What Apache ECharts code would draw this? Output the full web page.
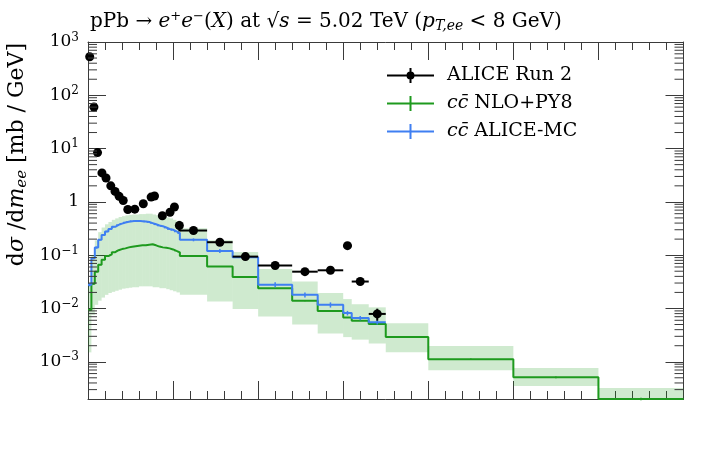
<!DOCTYPE html>
<html><head><meta charset="utf-8">
<script src="https://cdn.jsdelivr.net/npm/echarts@6/dist/echarts.min.js"></script>
<style>html,body{margin:0;padding:0;background:#fff}#c{width:706px;height:459px}</style>
</head><body><div id="c"></div>
<script>
// ---- data ----
const binEdges = [0,0.02,0.04,0.06,0.08,0.10,0.12,0.14,0.16,0.18,0.20,0.22,0.24,0.26,0.28,0.30,0.32,0.34,0.36,0.38,0.40,0.42,0.44,0.46,0.48,0.50,0.52,0.54,0.70,0.85,1.00,1.20,1.35,1.50,1.55,1.65,1.75,2.00,2.50,3.00,3.50];
const nloValues = [0.0094,0.029,0.049,0.066,0.082,0.096,0.104,0.114,0.124,0.130,0.134,0.140,0.144,0.147,0.150,0.153,0.153,0.157,0.160,0.153,0.145,0.140,0.138,0.134,0.128,0.120,0.113,0.096,0.061,0.039,0.024,0.0139,0.0090,0.0068,0.0059,0.0051,0.0029,0.00112,0.00051,0.0002];
const nloBandLow = [0.0015,0.0076,0.0117,0.0140,0.0160,0.0180,0.0195,0.0205,0.0215,0.0225,0.0235,0.0240,0.0245,0.025,0.025,0.026,0.026,0.026,0.026,0.025,0.025,0.024,0.024,0.023,0.022,0.021,0.020,0.018,0.0135,0.0098,0.0071,0.0050,0.0034,0.0029,0.0026,0.0022,0.0015,0.00069,0.00035,0.0001];
const nloBandHigh = [0.030,0.10,0.19,0.27,0.33,0.38,0.42,0.46,0.49,0.52,0.54,0.56,0.57,0.58,0.58,0.59,0.59,0.60,0.60,0.58,0.56,0.54,0.53,0.51,0.49,0.46,0.43,0.32,0.19,0.115,0.055,0.032,0.0195,0.0150,0.0120,0.0105,0.0053,0.00197,0.00076,0.00032];
const nloErr = [0.0004,0.001,0.001,0.001,0.001,0.001,0.001,0.001,0.001,0.001,0.001,0.001,0.001,0.001,0.001,0.001,0.001,0.001,0.001,0.001,0.001,0.001,0.001,0.001,0.001,0.001,0.001,0.001,0.0008,0.0006,0.0003,0.0002,0.00015,0.00012,0.0001,0.0001,0.00006,0.00003,0.00002,0.00001];
const mcValues = [0.028,0.088,0.139,0.194,0.24,0.278,0.31,0.34,0.37,0.39,0.41,0.425,0.435,0.44,0.44,0.435,0.43,0.42,0.40,0.38,0.36,0.35,0.33,0.31,0.30,0.28,0.26,0.194,0.12,0.091,0.028,0.018,0.0117,0.0082,0.0066,0.0055];
const mcErr = [0.002,0.004,0.006,0.007,0.008,0.009,0.01,0.01,0.012,0.012,0.013,0.013,0.014,0.014,0.014,0.014,0.014,0.014,0.013,0.013,0.013,0.012,0.012,0.012,0.012,0.011,0.011,0.012,0.01,0.012,0.003,0.002,0.0013,0.0008,0.0006,0.0005];
const dataX = [0.01,0.035,0.056,0.082,0.106,0.134,0.159,0.183,0.207,0.234,0.275,0.325,0.371,0.391,0.437,0.482,0.508,0.537,0.62,0.775,0.925,1.10,1.275,1.425,1.525,1.60,1.70];
const dataY = [530,60,8.4,3.5,2.8,2.0,1.57,1.27,1.06,0.72,0.73,0.92,1.23,1.29,0.55,0.64,0.80,0.36,0.29,0.175,0.094,0.064,0.049,0.052,0.151,0.032,0.0079];
const dataXErr = [0.01,0.01,0.01,0.01,0.01,0.01,0.01,0.01,0.01,0.01,0.015,0.015,0.01,0.01,0.015,0.015,0.01,0.01,0.08,0.075,0.075,0.10,0.075,0.075,0.025,0.05,0.05];
const dataYErr = [20,3,0.4,0.15,0.12,0.08,0.06,0.05,0.05,0.04,0.04,0.05,0.06,0.06,0.04,0.05,0.06,0.08,0.02,0.012,0.012,0.004,0.004,0.004,0.008,0.003,0.002];
const yTickValues = [0.001,0.01,0.1,1,10,100,1000];
const yTickLabels = ['10{sup|−3}','10{sup|−2}','10{sup|−1}','1','10{sup|1}','10{sup|2}','10{sup|3}'];
const seriesNames = ['ALICE Run 2','cc̄ NLO+PY8','cc̄ ALICE-MC'];

// ---- axis ranges / styles ----
const X_MIN = 0, X_MAX = 3.5, Y_MIN = 2e-4, Y_MAX = 1000;
const FONT = 'DejaVu Serif';
const GREEN = '#1e9a1e', BLUE = '#3f7ff2', BAND = 'rgba(30,154,30,0.21)', AXIS = '#3a3a3a';

function stepPoints(vals) {
  const pts = [];
  vals.forEach((v, i) => { pts.push([binEdges[i], v]); pts.push([binEdges[i + 1], v]); });
  return pts;
}
const bandData = nloValues.map((v, i) => [binEdges[i], binEdges[i + 1], nloBandLow[i], nloBandHigh[i]]);
const nloErrData = nloValues.map((v, i) => [(binEdges[i] + binEdges[i + 1]) / 2, v, nloErr[i]]);
const mcErrData = mcValues.map((v, i) => [(binEdges[i] + binEdges[i + 1]) / 2, v, mcErr[i]]);
const pointData = dataX.map((x, i) => [x, dataY[i]]);
const pointErrData = dataX.map((x, i) => [x, dataY[i], dataXErr[i], dataYErr[i]]);
const minorTickData = [];
for (let e = -4; e <= 2; e++) for (let m = 2; m <= 9; m++) {
  const v = m * Math.pow(10, e);
  if (v > Y_MIN && v < Y_MAX) minorTickData.push([X_MIN, v]);
}

function clipRect(shape, cs) {
  return echarts.graphic.clipRectByRect(shape, { x: cs.x, y: cs.y, width: cs.width, height: cs.height });
}

const chart = echarts.init(document.getElementById('c'), null, { renderer: 'canvas' });
const axisX = (pos) => ({
  type: 'value', min: X_MIN, max: X_MAX, interval: 0.5, position: pos,
  axisLine: { show: true, onZero: false, lineStyle: { color: AXIS, width: 1 } },
  axisTick: { show: true, inside: true, length: 18, lineStyle: { color: AXIS, width: 1 } },
  minorTick: { show: true, splitNumber: 5, length: 8, lineStyle: { color: AXIS, width: 1 } },
  axisLabel: { show: false }, splitLine: { show: false }, minorSplitLine: { show: false }
});
const axisY = (pos, labels) => ({
  type: 'log', logBase: 10, min: Y_MIN, max: Y_MAX, position: pos,
  axisLine: { show: true, onZero: false, lineStyle: { color: AXIS, width: 1 } },
  axisTick: { show: true, inside: true, length: 18, lineStyle: { color: AXIS, width: 1 } },
  minorTick: { show: false }, splitLine: { show: false },
  axisLabel: labels ? {
    show: true, margin: 9, color: '#000', fontFamily: FONT, fontSize: 17,
    formatter: (v) => {
      const i = yTickValues.findIndex(t => Math.abs(Math.log10(t) - Math.log10(v)) < 1e-6);
      return i < 0 ? '' : yTickLabels[i];
    },
    rich: { sup: { fontSize: 12, fontFamily: FONT, color: '#000', padding: [0, 0, 9, 0] } }
  } : { show: false }
});

const richBase = {
  i: { fontStyle: 'italic', fontFamily: FONT, fontSize: 20, color: '#000' },
  sup: { fontSize: 13, fontFamily: FONT, color: '#000', padding: [0, 0, 10, 0] },
  sub: { fontSize: 14, fontStyle: 'italic', fontFamily: FONT, color: '#000', padding: [9, 0, 0, 0] }
};

const option = {
  animation: false,
  backgroundColor: '#fff',
  title: {
    text: 'pPb → {i|e}{sup|+}{i|e}{sup|−}({i|X}) at √{i|s} = 5.02 TeV ({i|p}{sub|T,ee} < 8 GeV)',
    left: 85, top: 5,
    textStyle: { fontFamily: FONT, fontSize: 20, fontWeight: 'normal', color: '#000', rich: richBase }
  },
  graphic: [{
    type: 'text', x: 17, y: 43, rotation: Math.PI / 2,
    style: {
      text: 'd{i|σ} /d{i|m}{sub|ee} [mb / GeV]',
      font: '22px "DejaVu Serif"', fill: '#000', align: 'right', verticalAlign: 'middle',
      rich: {
        i: { fontStyle: 'italic', fontFamily: FONT, fontSize: 22, fill: '#000' },
        sub: { fontSize: 15, fontStyle: 'italic', fontFamily: FONT, fill: '#000', padding: [11, 0, 0, 0] }
      }
    }
  }],
  legend: {
    orient: 'vertical', left: 382, top: 61, itemWidth: 47, itemHeight: 15, itemGap: 9,
    selectedMode: false,
    data: [
      { name: seriesNames[0], icon: 'path://M0,6.5H47V8.5H0Z M22.5,0H24.5V15H22.5Z M23.5,3.5A4,4,0,1,1,23.5,11.5A4,4,0,1,1,23.5,3.5Z' },
      { name: seriesNames[1], icon: 'path://M0,6.5H47V8.5H0Z M22.5,0H24.5V15H22.5Z' },
      { name: seriesNames[2], icon: 'path://M0,6.5H47V8.5H0Z M22.5,0H24.5V15H22.5Z' }
    ],
    formatter: (name) => name.replace('cc̄', '{i|cc̄}'),
    textStyle: {
      fontFamily: FONT, fontSize: 19, color: '#000', padding: [0, 0, 0, 8],
      rich: { i: { fontStyle: 'italic', fontFamily: FONT, fontSize: 19, color: '#000' } }
    }
  },
  grid: { left: 88, right: 22.5, top: 42, bottom: 60, containLabel: false },
  xAxis: [axisX('bottom'), axisX('top')],
  yAxis: [axisY('left', true), axisY('right', false)],
  series: [
    {
      name: 'nlo band', type: 'custom', xAxisIndex: 0, yAxisIndex: 0, silent: true, z: 1,
      data: bandData, encode: { x: [0, 1], y: [2, 3] },
      renderItem: (params, api) => {
        const p1 = api.coord([api.value(0), api.value(3)]);
        const p2 = api.coord([api.value(1), api.value(2)]);
        const shape = clipRect({ x: p1[0], y: p1[1], width: p2[0] - p1[0], height: p2[1] - p1[1] }, params.coordSys);
        return shape && { type: 'rect', shape, style: { fill: BAND } };
      }
    },
    {
      name: seriesNames[1], type: 'line', xAxisIndex: 0, yAxisIndex: 0, z: 3,
      data: stepPoints(nloValues), showSymbol: false, symbol: 'none',
      color: GREEN, lineStyle: { color: GREEN, width: 2 }, clip: true
    },
    {
      name: 'nlo err', type: 'custom', xAxisIndex: 0, yAxisIndex: 0, silent: true, z: 3,
      data: nloErrData, encode: { x: 0, y: 1 },
      renderItem: (params, api) => {
        const a = api.coord([api.value(0), api.value(1) - api.value(2)]);
        const b = api.coord([api.value(0), api.value(1) + api.value(2)]);
        return { type: 'line', shape: { x1: a[0], y1: a[1], x2: b[0], y2: b[1] }, style: { stroke: GREEN, lineWidth: 1.5 } };
      }
    },
    {
      name: seriesNames[2], type: 'line', xAxisIndex: 0, yAxisIndex: 0, z: 4,
      data: stepPoints(mcValues), showSymbol: false, symbol: 'none',
      color: BLUE, lineStyle: { color: BLUE, width: 2 }, clip: true
    },
    {
      name: 'mc err', type: 'custom', xAxisIndex: 0, yAxisIndex: 0, silent: true, z: 4,
      data: mcErrData, encode: { x: 0, y: 1 },
      renderItem: (params, api) => {
        const a = api.coord([api.value(0), api.value(1) - api.value(2)]);
        const b = api.coord([api.value(0), api.value(1) + api.value(2)]);
        return { type: 'line', shape: { x1: a[0], y1: a[1], x2: b[0], y2: b[1] }, style: { stroke: BLUE, lineWidth: 1.5 } };
      }
    },
    {
      name: 'data err', type: 'custom', xAxisIndex: 0, yAxisIndex: 0, silent: true, z: 5,
      data: pointErrData, encode: { x: 0, y: 1 },
      renderItem: (params, api) => {
        const x = api.value(0), y = api.value(1), ex = api.value(2), ey = api.value(3);
        const l = api.coord([x - ex, y]), r = api.coord([x + ex, y]);
        const d = api.coord([x, y - ey]), u = api.coord([x, y + ey]);
        return { type: 'group', children: [
          { type: 'line', shape: { x1: l[0], y1: l[1], x2: r[0], y2: r[1] }, style: { stroke: '#000', lineWidth: 2 } },
          { type: 'line', shape: { x1: d[0], y1: d[1], x2: u[0], y2: u[1] }, style: { stroke: '#000', lineWidth: 2 } }
        ] };
      }
    },
    {
      name: seriesNames[0], type: 'scatter', xAxisIndex: 0, yAxisIndex: 0, z: 6,
      data: pointData, symbol: 'circle', symbolSize: 9, color: '#000',
      itemStyle: { color: '#000', opacity: 1 }
    },
    {
      name: 'minor y ticks', type: 'custom', xAxisIndex: 0, yAxisIndex: 0, silent: true, z: 7,
      data: minorTickData, encode: { x: 0, y: 1 },
      renderItem: (params, api) => {
        const l = api.coord([X_MIN, api.value(1)]);
        const r = api.coord([X_MAX, api.value(1)]);
        return { type: 'group', children: [
          { type: 'line', shape: { x1: l[0], y1: l[1], x2: l[0] + 9, y2: l[1] }, style: { stroke: AXIS, lineWidth: 1 } },
          { type: 'line', shape: { x1: r[0], y1: r[1], x2: r[0] - 9, y2: r[1] }, style: { stroke: AXIS, lineWidth: 1 } }
        ] };
      }
    }
  ]
};
chart.setOption(option);
</script></body></html>
